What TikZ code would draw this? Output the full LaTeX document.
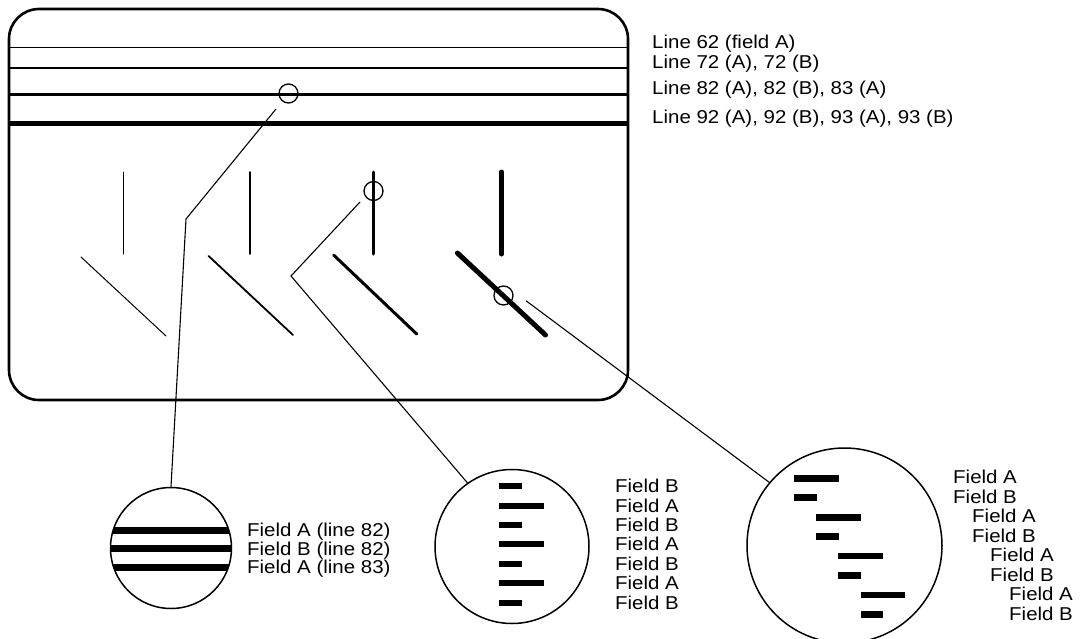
\documentclass[tikz,border=0pt]{standalone}
\usepackage{fontspec}
\setmainfont{Liberation Sans}[FakeStretch=1.1]
\begin{document}
\begin{tikzpicture}[x=1pt,y=-1pt,
  lbl/.style={anchor=west, inner sep=0pt, text height=13.3pt, text depth=0pt,
              font=\fontsize{18.6pt}{19.5pt}\selectfont},
  conn/.style={line width=1.1pt},
  ring/.style={circle, draw, line width=1.3pt, minimum size=19pt, inner sep=0pt},
  big/.style={circle, draw, line width=1.5pt, inner sep=0pt}]

\useasboundingbox (0,0) rectangle (1085,638);

% screen
\draw[line width=2.6pt, rounded corners=30pt] (9,9) rectangle (628,400);

% horizontal lines
\draw[line width=1pt]   (9,47)  -- (628,47);
\draw[line width=1.7pt] (9,68)  -- (628,68);
\draw[line width=3pt]   (9,94)  -- (628,94);
\draw[line width=5pt]   (9,123) -- (628,123);

% vertical and diagonal strokes
\foreach \xa/\xb/\xc/\xd/\ww in {123/81/166/0/1, 250/208.6/293/0/1.8, 373.5/333.6/416.7/0/3, 501.5/457.4/545.5/0/5}{
  \draw[line width=\ww pt, line cap=round] (\xa,172) -- (\xa,254);
}
\draw[line width=1pt,   line cap=round] (81,257)    -- (166,336);
\draw[line width=1.8pt, line cap=round] (208.6,256) -- (293,335);
\draw[line width=3pt,   line cap=round] (333.6,255) -- (416.7,334);
\draw[line width=5pt,   line cap=round] (457.4,253) -- (545.5,335);

% small rings
\node[ring] (r1) at (288.5,93.5) {};
\node[ring] (r2) at (373.5,191) {};
\node[ring] (r3) at (503.5,295.5) {};

% big circles
\begin{scope}
  \clip (171,548) circle[radius=60.5pt];
  \foreach \yy in {530,548.5,567}{
    \fill (100,\yy-3.5) rectangle (240,\yy+3.5);
  }
\end{scope}
\node[big, minimum size=121pt] (bigL) at (171,548) {};
\node[big, minimum size=154pt] (bigM) at (512,546.5) {};
\node[big, minimum size=195pt] (bigR) at (844.5,545.5) {};

\foreach \yy/\ww in {486/23, 505.5/45, 525/23, 544/45, 563.5/23, 583/45, 602.5/23}{
  \fill (499,\yy-3) rectangle (499+\ww,\yy+3);
}
\foreach \xx/\yy/\ww in {794/478.3/45, 794/497.7/22.5, 816/517.7/45, 816/536.7/22.5,
                         838.3/556/45, 838.3/575.3/22.5, 860.7/595/44.5, 860.7/614.3/22.5}{
  \fill (\xx,\yy-3.3) rectangle (\xx+\ww,\yy+3.3);
}

% connectors
\coordinate (c1a) at (276,109);
\coordinate (c1b) at (186,219);
\draw[conn] (c1a) -- (c1b) -- (bigL.north);
\coordinate (c2a) at (360,202);
\coordinate (c2b) at (291,276);
\draw[conn] (c2a) -- (c2b) -- (bigM.125);
\coordinate (c3a) at (526,300.7);
\draw[conn] (c3a) -- (bigR.140);

% labels of the lines
\node[lbl] (t62) at (652,42)  {Line 62 (field A)};
\node[lbl] (t72) at (652,62)  {Line 72 (A), 72 (B)};
\node[lbl] (t82) at (652,88)  {Line 82 (A), 82 (B), 83 (A)};
\node[lbl] (t92) at (652,117) {Line 92 (A), 92 (B), 93 (A), 93 (B)};

% left circle labels
\node[lbl] (l1) at (247,530)   {Field A (line 82)};
\node[lbl] (l2) at (247,548.5) {Field B (line 82)};
\node[lbl] (l3) at (247,567)   {Field A (line 83)};

% middle circle labels
\node[lbl] (m1) at (615,486)   {Field B};
\node[lbl] (m2) at (615,505.5) {Field A};
\node[lbl] (m3) at (615,525)   {Field B};
\node[lbl] (m4) at (615,544)   {Field A};
\node[lbl] (m5) at (615,563.5) {Field B};
\node[lbl] (m6) at (615,583)   {Field A};
\node[lbl] (m7) at (615,602.5) {Field B};

% right circle labels
\node[lbl] (q1) at (953,477)   {Field A};
\node[lbl] (q2) at (953,496.5) {Field B};
\node[lbl] (q3) at (972,516)   {Field A};
\node[lbl] (q4) at (972,535.5) {Field B};
\node[lbl] (q5) at (990,555)   {Field A};
\node[lbl] (q6) at (990,574.5) {Field B};
\node[lbl] (q7) at (1009,594)  {Field A};
\node[lbl] (q8) at (1009,613.5){Field B};
\end{tikzpicture}
\end{document}
